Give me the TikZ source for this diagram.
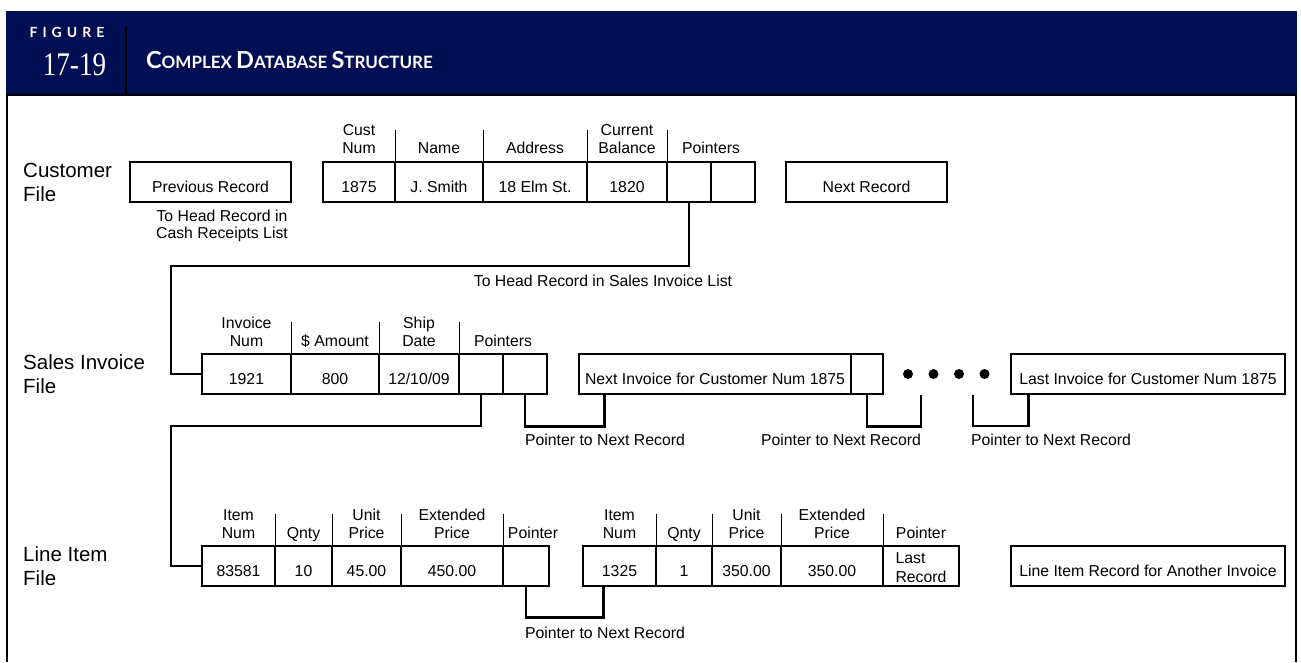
\documentclass[tikz,border=0pt]{standalone}
\usepackage{fontspec}
\setmainfont{Liberation Sans}
\newfontfamily\titlefont{Lato}
\newfontfamily\numfont{Liberation Serif}

\definecolor{testata}{RGB}{0,14,84}
\newcommand\grande{\fontsize{23.5}{23.5}\selectfont}
\newcommand\piccolo{\fontsize{17}{17}\selectfont}

\tikzset{
  cella/.style={draw, line width=1.1pt, minimum height=40pt, inner sep=0pt,
    text height=21.3pt, text depth=0pt, font=\fontsize{15.8}{18}\selectfont},
  intest/.style={align=center, anchor=south, inner sep=0pt, text depth=0pt,
    font=\fontsize{15.8}{18}\selectfont},
  nota/.style={align=center, anchor=south, inner sep=0pt, text depth=0pt,
    font=\fontsize{15.8}{17}\selectfont},
  archivio/.style={align=left, anchor=south west, inner sep=0pt, text depth=0pt,
    font=\fontsize{20.5}{24}\selectfont},
  divisore/.style={line width=1.1pt},
  legame/.style={line width=2.4pt},
  cornice/.style={line width=2pt},
}

\begin{document}
\begin{tikzpicture}[x=1pt,y=-1pt]
				\useasboundingbox (0,0) rectangle (1301,662);
				
				% Testata della figura
				\fill[testata] (6,11) rectangle (1297,95);
				\draw[cornice] (126,26) -- (126,95);
				\draw[cornice] (6,95) -- (1297,95);
				\draw[cornice] (7,95) -- (7,662);
				\draw[cornice] (1296,95) -- (1296,662);
				\node[font=\titlefont\bfseries\fontsize{14}{14}\selectfont, text=white, anchor=base] (fig-lbl) at (67,37) {F\kern5pt I\kern5pt G\kern5pt U\kern5pt R\kern5pt E};
				\node[font=\numfont\fontsize{33}{33}\selectfont, text=white, anchor=base, xscale=0.82, transform shape] (fig-num) at (74.5,75) {17-19};
				\node[font=\titlefont\bfseries, text=white, anchor=base west, inner sep=0pt] (titolo) at (146,68) {\grande C\piccolo OMPLEX \grande D\piccolo ATABASE \grande S\piccolo TRUCTURE};
				
				% Nomi degli archivi
				\node[archivio] (f-cust) at (23,201.5) {Customer\\File};
				\node[archivio] (f-sales) at (23,394) {Sales Invoice\\File};
				\node[archivio] (f-line) at (23,586) {Line Item\\File};
				
				% Archivio clienti
				\node[cella, minimum width=161pt] (c-prev) at (210.5,182) {Previous Record};
				\node[cella, minimum width=72pt] (c-num) at (359,182) {1875};
				\node[cella, minimum width=88pt] (c-name) at (439,182) {J. Smith};
				\node[cella, minimum width=104pt] (c-addr) at (535,182) {18 Elm St.};
				\node[cella, minimum width=80pt] (c-bal) at (627,182) {1820};
				\node[cella, minimum width=44pt] (c-pa) at (689,182) {};
				\node[cella, minimum width=44pt] (c-pb) at (733,182) {};
				\node[cella, minimum width=161pt] (c-next) at (866.5,182) {Next Record};
				\draw[divisore] (c-num.north east) -- ++(0,-31);
				\draw[divisore] (c-name.north east) -- ++(0,-31);
				\draw[divisore] (c-addr.north east) -- ++(0,-31);
				\draw[divisore] (c-bal.north east) -- ++(0,-31);
				\node[intest] (h-cnum) at (359,153.65) {Cust\\Num};
				\node[intest] (h-cname) at (439,153.65) {Name};
				\node[intest] (h-caddr) at (535,153.65) {Address};
				\node[intest] (h-cbal) at (627,153.65) {Current\\Balance};
				\node[intest] (h-cptr) at (711,153.65) {Pointers};
				\node[nota] (n-cash) at (222,238.65) {To Head Record in\\Cash Receipts List};
				\node[nota] (n-head) at (603,286.65) {To Head Record in Sales Invoice List};
				
				% Archivio fatture di vendita
				\node[cella, minimum width=89pt] (s-num) at (246.5,374) {1921};
				\node[cella, minimum width=88pt] (s-amt) at (335,374) {800};
				\node[cella, minimum width=80pt] (s-date) at (419,374) {12/10/09};
				\node[cella, minimum width=44pt] (s-pa) at (481,374) {};
				\node[cella, minimum width=44pt] (s-pb) at (525,374) {};
				\draw[divisore] (s-num.north east) -- ++(0,-31);
				\draw[divisore] (s-amt.north east) -- ++(0,-31);
				\draw[divisore] (s-date.north east) -- ++(0,-31);
				\node[intest] (h-snum) at (246.5,346.65) {Invoice\\Num};
				\node[intest] (h-samt) at (335,346.65) {\$ Amount};
				\node[intest] (h-sdate) at (419,346.65) {Ship\\Date};
				\node[intest] (h-sptr) at (503,346.65) {Pointers};
				\node[cella, minimum width=272pt] (n-inv) at (715,374) {Next Invoice for Customer Num 1875};
				\node[cella, minimum width=32pt] (n-ptr) at (867,374) {};
				\fill (908,374) circle (5pt);
				\fill (933.5,374) circle (5pt);
				\fill (959,374) circle (5pt);
				\fill (984.5,374) circle (5pt);
				\node[cella, minimum width=274pt] (ultima) at (1148,374) {Last Invoice for Customer Num 1875};
				\node[nota] (n-ptr1) at (605,445.65) {Pointer to Next Record};
				\node[nota] (n-ptr2) at (841,445.65) {Pointer to Next Record};
				\node[nota] (n-ptr3) at (1051,445.65) {Pointer to Next Record};
				
				% Archivio righe di dettaglio
				\node[cella, minimum width=73pt] (l1-num) at (238.5,566) {83581};
				\node[cella, minimum width=57pt] (l1-qty) at (303.5,566) {10};
				\node[cella, minimum width=69pt] (l1-up) at (366.5,566) {45.00};
				\node[cella, minimum width=102pt] (l1-ep) at (452,566) {450.00};
				\node[cella, minimum width=46pt] (l1-p) at (526,566) {};
				\draw[divisore] (l1-num.north east) -- ++(0,-31);
				\draw[divisore] (l1-qty.north east) -- ++(0,-31);
				\draw[divisore] (l1-up.north east) -- ++(0,-31);
				\draw[divisore] (l1-ep.north east) -- ++(0,-31);
				\node[intest] (h-l1num) at (238.5,538.65) {Item\\Num};
				\node[intest] (h-l1qty) at (303.5,538.65) {Qnty};
				\node[intest] (h-l1up) at (366.5,538.65) {Unit\\Price};
				\node[intest] (h-l1ep) at (452,538.65) {Extended\\Price};
				\node[intest] (h-l1p) at (533,538.65) {Pointer};
				\node[cella, minimum width=73pt] (l2-num) at (619.5,566) {1325};
				\node[cella, minimum width=56pt] (l2-qty) at (684,566) {1};
				\node[cella, minimum width=69pt] (l2-up) at (746.5,566) {350.00};
				\node[cella, minimum width=102pt] (l2-ep) at (832,566) {350.00};
				\node[cella, minimum width=76pt, align=left, text height=33.3pt,
				  font=\fontsize{15.8}{19}\selectfont] (l2-p) at (921,566) {Last\\Record};
				\draw[divisore] (l2-num.north east) -- ++(0,-31);
				\draw[divisore] (l2-qty.north east) -- ++(0,-31);
				\draw[divisore] (l2-up.north east) -- ++(0,-31);
				\draw[divisore] (l2-ep.north east) -- ++(0,-31);
				\node[intest] (h-l2num) at (619.5,538.65) {Item\\Num};
				\node[intest] (h-l2qty) at (684,538.65) {Qnty};
				\node[intest] (h-l2up) at (746.5,538.65) {Unit\\Price};
				\node[intest] (h-l2ep) at (832,538.65) {Extended\\Price};
				\node[intest] (h-l2p) at (921,538.65) {Pointer};
				\node[cella, minimum width=274pt] (altra) at (1148,566) {Line Item Record for Another Invoice};
				\node[nota] (n-ptr4) at (605,638.65) {Pointer to Next Record};
				
				% Collegamenti tra i record
				\coordinate (giro-c) at (171,266);
				\coordinate (giro-s) at (171,426);
				\coordinate (vuoto-a) at (921,395);
				\coordinate (vuoto-b) at (973,395);
				\draw[legame] (c-pa.south) |- (giro-c) |- (s-num.west);
				\draw[legame] (s-pa.south) |- (giro-s) |- (l1-num.west);
				\draw[legame] (s-pb.south) -- ++(0,32) -| ([xshift=26pt]n-inv.south west);
				\draw[legame] (n-ptr.south) -- ++(0,32) -| (vuoto-a);
				\draw[legame] (vuoto-b) -- ++(0,31) -| ([xshift=18pt]ultima.south west);
				\draw[legame] (l1-p.south) -- ++(0,31) -| ([xshift=21pt]l2-num.south west);
			\end{tikzpicture}
\end{document}
